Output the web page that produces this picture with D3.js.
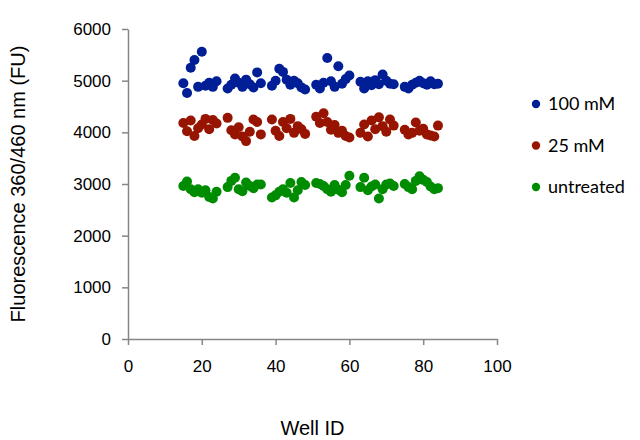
<!DOCTYPE html>
<html>
<head>
<meta charset="utf-8">
<script src="https://cdn.jsdelivr.net/npm/d3@7"></script>
<style>
  body { margin: 0; background: #fff; }
  svg { display: block; }
  .axis text { font-family: "Liberation Sans"; font-size: 17px; fill: #000; }
  .axis path, .axis line { stroke: #868686; stroke-width: 1.5; }
  .title { font-family: "Liberation Sans"; font-size: 20px; }
</style>
</head>
<body>
<svg id="chart" width="640" height="440"></svg>
<script>
// well numbers (rows of 10 wells)
var wells = [].concat(
  d3.range(15, 25), d3.range(27, 37), d3.range(39, 49),
  d3.range(51, 61), d3.range(63, 73), d3.range(75, 85)
);

var mM100 = [
  4950, 4760, 5250, 5400, 4880, 5560, 4900, 4960, 4880, 4990,
  4850, 4920, 5040, 4960, 4880, 5020, 4930, 4870, 5160, 4950,
  4900, 5000, 5230, 5170, 5020, 4920, 5000, 4950, 4870, 4830,
  4920, 4850, 4960, 5440, 4990, 4880, 5280, 4940, 5030, 5100,
  4980, 4850, 4990, 4910, 5010, 4930, 5120, 5000, 4940, 4930,
  4880, 4850, 4920, 4960, 5000, 4950, 4920, 4990, 4930, 4940
];

var mM25 = [
  4180, 4020, 4230, 3930, 4080, 4150, 4260, 4060, 4240, 4170,
  4280, 4040, 3960, 4100, 3920, 3830, 4010, 4250, 4200, 3960,
  4250, 4030, 3930, 4200, 4080, 4260, 3990, 4120, 4060, 3970,
  4300, 4180, 4370, 4200, 4050, 4140, 3990, 4030, 3930, 3900,
  3990, 4150, 3920, 4230, 4060, 4290, 4120, 4010, 4250, 4130,
  4050, 3960, 3990, 4190, 4030, 4070, 3960, 3940, 3920, 4130
];

var untreated = [
  2960, 3050, 2900, 2840, 2900, 2830, 2880, 2750, 2720, 2850,
  2940, 3060, 3120, 2900, 2860, 3030, 2960, 2920, 2990, 2990,
  2740, 2780, 2850, 2900, 2830, 3020, 2740, 2880, 3040, 2980,
  3020, 3000, 2960, 2900, 2850, 2980, 2890, 2840, 2980, 3160,
  2940, 3120, 2880, 2950, 2990, 2720, 2900, 2990, 3010, 2960,
  3000, 2940, 2900, 3060, 3150, 3080, 3040, 2950, 2900, 2920
];

var seriesNames = ['100 mM', '25 mM', 'untreated'];
var seriesColors = ['#001e96', '#961400', '#008c00'];
var xTicks = [0, 20, 40, 60, 80, 100];
var yTicks = [0, 1000, 2000, 3000, 4000, 5000, 6000];

var series = [mM100, mM25, untreated].map(function (vals, i) {
  return {
    name: seriesNames[i],
    color: seriesColors[i],
    points: vals.map(function (v, j) { return { well: wells[j], value: v }; })
  };
});

var svg = d3.select('#chart');

var x = d3.scaleLinear().domain([0, 100]).range([128, 497]);
var y = d3.scaleLinear().domain([0, 6000]).range([339, 29]);

// axes
svg.append('g')
  .attr('class', 'axis')
  .attr('font-family', null)
  .attr('transform', 'translate(0,' + y(0) + ')')
  .call(d3.axisBottom(x).tickValues(xTicks).tickFormat(d3.format('d'))
    .tickSize(6).tickPadding(12).tickSizeOuter(0))
  .selectAll('text').attr('dy', '0.9em');

svg.append('g')
  .attr('class', 'axis')
  .attr('transform', 'translate(' + x(0) + ',0)')
  .call(d3.axisLeft(y).tickValues(yTicks).tickFormat(d3.format('d'))
    .tickSize(6).tickPadding(11).tickSizeOuter(0));

svg.selectAll('.axis').attr('font-family', null).attr('font-size', null);

// points
series.forEach(function (s) {
  svg.append('g')
    .selectAll('circle')
    .data(s.points)
    .enter().append('circle')
    .attr('cx', function (d) { return x(d.well); })
    .attr('cy', function (d) { return y(d.value); })
    .attr('r', 5)
    .attr('fill', s.color);
});

// axis titles
svg.append('text')
  .attr('class', 'title')
  .attr('transform', 'translate(25,' + ((y(0) + y(6000)) / 2) + ') rotate(-90)')
  .attr('text-anchor', 'middle')
  .text('Fluorescence 360/460 nm (FU)');

svg.append('text')
  .attr('class', 'title')
  .attr('x', (x(0) + x(100)) / 2)
  .attr('y', 435)
  .attr('text-anchor', 'middle')
  .text('Well ID');

// legend
var legend = svg.append('g')
  .selectAll('g')
  .data(series)
  .enter().append('g')
  .attr('transform', function (d, i) { return 'translate(536,' + (104 + i * 41.5) + ')'; });

legend.append('circle')
  .attr('r', 4.2)
  .attr('fill', function (d) { return d.color; });

legend.append('text')
  .attr('x', 12)
  .attr('dy', '0.35em')
  .style('font-family', 'Lato, "Open Sans", sans-serif')
  .style('font-size', '18px')
  .text(function (d) { return d.name; });
</script>
</body>
</html>
